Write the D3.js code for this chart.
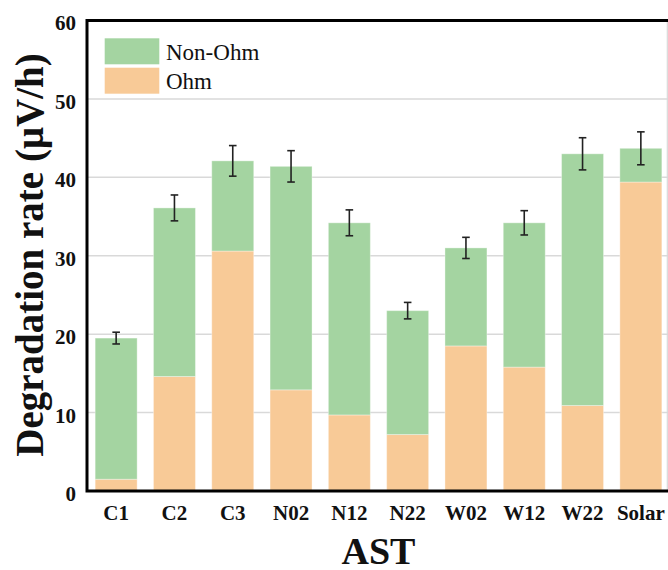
<!DOCTYPE html>
<html>
<head>
<meta charset="utf-8">
<script src="https://cdn.jsdelivr.net/npm/d3@7"></script>
<style>
  html, body { margin: 0; padding: 0; background: #ffffff; }
  svg { display: block; }
</style>
</head>
<body>
<div id="chart"></div>
<script>
// Accelerated stress tests (AST) and their degradation rate split into ohmic / non-ohmic parts
const categories = ["C1", "C2", "C3", "N02", "N12", "N22", "W02", "W12", "W22", "Solar"];
const ohm        = [1.5, 14.6, 30.6, 12.9, 9.7, 7.2, 18.5, 15.8, 10.9, 39.4];
const nonOhm     = [18.0, 21.5, 11.5, 28.5, 24.5, 15.8, 12.5, 18.4, 32.1, 4.3];
const errors     = [0.75, 1.65, 1.95, 2.0, 1.65, 1.05, 1.35, 1.55, 2.05, 2.1];
const yTicks     = [0, 10, 20, 30, 40, 50, 60];
const seriesKeys = ["Ohm", "Non-Ohm"];
const legendKeys = ["Non-Ohm", "Ohm"];
const colors     = { "Ohm": "#f8ca97", "Non-Ohm": "#a4d4a1" };

const FONT = "'Liberation Serif', 'Times New Roman', Times, serif";
const W = 668, H = 570;
const plotL = 87, plotR = 670, plotT = 20.5, plotB = 491;

const rows = categories.map((c, i) => ({ cat: c, "Ohm": ohm[i], "Non-Ohm": nonOhm[i], err: errors[i] }));
const stacked = d3.stack().keys(seriesKeys)(rows);

const x = d3.scaleBand().domain(categories).range([plotL, plotR]).paddingInner(0.28).paddingOuter(0.14);
const y = d3.scaleLinear().domain([0, 60]).range([plotB, plotT]);

const svg = d3.select("#chart").append("svg").attr("width", W).attr("height", H)
  .attr("font-family", FONT);

// horizontal gridlines
svg.append("g").selectAll("line").data(yTicks.filter(t => t > 0 && t < 60)).join("line")
  .attr("x1", plotL).attr("x2", W)
  .attr("y1", d => y(d)).attr("y2", d => y(d))
  .attr("stroke", "#d9d9d9").attr("stroke-width", 1.5);

// right border of the plot area
svg.append("line").attr("x1", 667.3).attr("x2", 667.3).attr("y1", plotT).attr("y2", plotB)
  .attr("stroke", "#d9d9d9").attr("stroke-width", 1.2);

// stacked bars
svg.append("g").selectAll("g").data(stacked).join("g")
  .attr("fill", d => colors[d.key])
  .selectAll("rect").data(d => d).join("rect")
  .attr("x", d => x(d.data.cat))
  .attr("width", x.bandwidth())
  .attr("y", d => y(d[1]))
  .attr("height", d => y(d[0]) - y(d[1]))
  .attr("stroke", "#ffffff").attr("stroke-opacity", 0.35).attr("stroke-width", 1);

// error bars on the total
const eb = svg.append("g").attr("stroke", "#222").attr("stroke-width", 1.6).attr("fill", "none");
rows.forEach(r => {
  const total = r["Ohm"] + r["Non-Ohm"];
  const cx = x(r.cat) + x.bandwidth() / 2;
  const y1 = y(total + r.err), y0 = y(total - r.err);
  eb.append("line").attr("x1", cx).attr("x2", cx).attr("y1", y1).attr("y2", y0);
  eb.append("line").attr("x1", cx - 3.8).attr("x2", cx + 3.8).attr("y1", y1).attr("y2", y1);
  eb.append("line").attr("x1", cx - 3.8).attr("x2", cx + 3.8).attr("y1", y0).attr("y2", y0);
});

// y axis labels
const yAxis = svg.append("g").attr("transform", `translate(${plotL},0)`)
  .call(d3.axisLeft(y).tickValues(yTicks).tickSize(0).tickPadding(11).tickFormat(d3.format("d")));
yAxis.attr("font-family", FONT);
yAxis.select(".domain").remove();
yAxis.selectAll("text").attr("font-size", 21).attr("font-weight", "bold")
  .attr("dy", "0.45em").attr("font-family", FONT).attr("fill", "#111");

// x axis labels
const xAxis = svg.append("g").attr("transform", `translate(0,${plotB})`)
  .call(d3.axisBottom(x).tickSize(0).tickPadding(14));
xAxis.attr("font-family", FONT);
xAxis.select(".domain").remove();
xAxis.selectAll("text").attr("font-size", 21).attr("font-weight", "bold")
  .attr("font-family", FONT).attr("fill", "#111");

// frame: top, left, bottom
svg.append("path")
  .attr("d", `M${W},${plotT} L${plotL},${plotT} L${plotL},${plotB} L${W},${plotB}`)
  .attr("fill", "none").attr("stroke", "#000").attr("stroke-width", 3);

// axis titles
svg.append("text").attr("x", 378.5).attr("y", 563.5).attr("text-anchor", "middle")
  .attr("font-family", FONT).attr("fill", "#111")
  .attr("font-size", 38).attr("font-weight", "bold").text("AST");
svg.append("text").attr("transform", "translate(43,255) rotate(-90)").attr("text-anchor", "middle")
  .attr("font-family", FONT).attr("fill", "#111")
  .attr("font-size", 39).attr("font-weight", "bold").text("Degradation rate (μV/h)");

// legend
const lg = svg.append("g");
legendKeys.forEach((k, i) => {
  lg.append("rect").attr("x", 104.7).attr("y", 38.3 + i * 29.4).attr("width", 54.6).attr("height", 26)
    .attr("fill", colors[k]);
  lg.append("text").attr("x", 166).attr("y", 59.5 + i * 29.4)
    .attr("font-family", FONT).attr("fill", "#111").attr("font-size", 23).text(k);
});
</script>
</body>
</html>
